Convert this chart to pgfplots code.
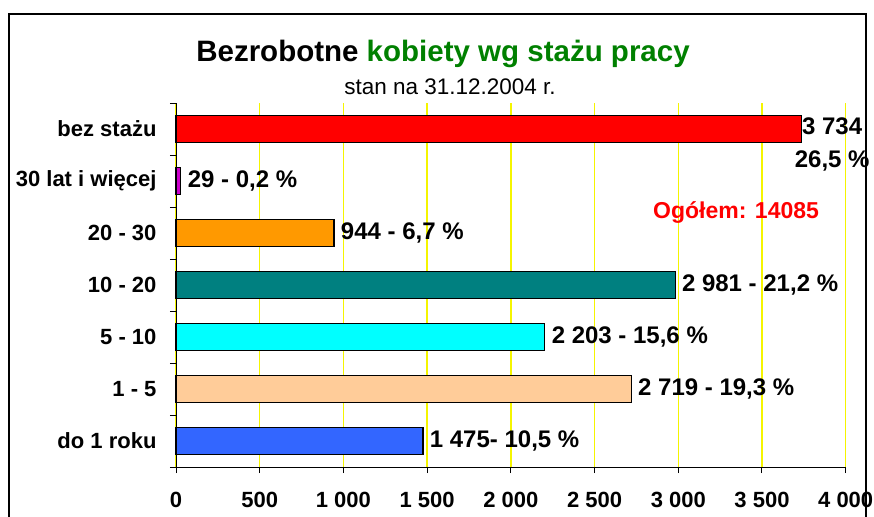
\documentclass[border=0pt]{standalone}
\usepackage{pgfplots}
\pgfplotsset{compat=1.18}
\usepackage{fontspec}
\setmainfont{Liberation Sans}
\definecolor{titlegreen}{RGB}{0,128,0}
\definecolor{c1}{RGB}{51,102,255}
\definecolor{c2}{RGB}{255,204,153}
\definecolor{c3}{RGB}{0,255,255}
\definecolor{c4}{RGB}{0,128,128}
\definecolor{c5}{RGB}{255,153,0}
\definecolor{c6}{RGB}{204,0,204}
\definecolor{c7}{RGB}{255,0,0}
\definecolor{gridyellow}{RGB}{245,245,0}
\begin{document}
\begin{tikzpicture}
\useasboundingbox (0,0) rectangle (874pt,-516pt);
\draw[line width=1.5pt] (9pt,-540pt) -- (9pt,-14pt) -- (866pt,-14pt) -- (866pt,-540pt);
\node[anchor=base, inner sep=0pt] at (443pt,-62pt) {\fontsize{29.5}{33}\selectfont\bfseries Bezrobotne \textcolor{titlegreen}{kobiety wg stażu pracy}};
\node[anchor=base, inner sep=0pt] at (450pt,-95pt) {\fontsize{22.5}{26}\selectfont stan na 31.12.2004 r.};
\begin{axis}[
  at={(176pt,-467pt)}, anchor=south west,
  scale only axis, width=669.7pt, height=364pt,
  xmin=0, xmax=4000, ymin=-0.5, ymax=6.5,
  enlargelimits=false, clip=false,
  axis x line*=bottom, axis y line*=left,
  axis line style={-, line width=1pt},
  xtick={0,500,...,4000},
  xticklabels={0,500,1 000,1 500,2 000,2 500,3 000,3 500,4 000},
  ytick={0,...,6},
  yticklabels={do 1 roku,1 - 5,5 - 10,10 - 20,20 - 30,30 lat i więcej,bez stażu},
  minor ytick={-0.5,0.5,...,6.5},
  tick align=outside,
  major tick length=6pt, minor tick length=6pt,
  major y tick style={draw=none},
  minor y tick style={black, line width=1pt},
  major x tick style={black, line width=1pt},
  xmajorgrids,
  major x grid style={gridyellow, line width=1.4pt},
  xticklabel style={font=\bfseries\fontsize{22}{26}\selectfont, yshift=-16pt},
  yticklabel style={font=\bfseries\fontsize{22}{26}\selectfont, xshift=-10pt},
  bar width=26.6pt,
  nodes near coords style={font=\bfseries\fontsize{24}{33}\selectfont, anchor=west, xshift=3pt},
]
\addplot[xbar, bar shift=0pt, fill=c1, draw=black, line width=1.2pt, nodes near coords={1 475- 10,5 \%}] coordinates {(1475,0)};
\addplot[xbar, bar shift=0pt, fill=c2, draw=black, line width=1.2pt, nodes near coords={2 719 - 19,3 \%}] coordinates {(2719,1)};
\addplot[xbar, bar shift=0pt, fill=c3, draw=black, line width=1.2pt, nodes near coords={2 203 - 15,6 \%}] coordinates {(2203,2)};
\addplot[xbar, bar shift=0pt, fill=c4, draw=black, line width=1.2pt, nodes near coords={2 981 - 21,2 \%}] coordinates {(2981,3)};
\addplot[xbar, bar shift=0pt, fill=c5, draw=black, line width=1.2pt, nodes near coords={944 - 6,7 \%}] coordinates {(944,4)};
\addplot[xbar, bar shift=0pt, fill=c6, draw=black, line width=1.2pt, nodes near coords={29 - 0,2 \%}] coordinates {(29,5)};
\addplot[xbar, bar shift=0pt, fill=c7, draw=black, line width=1.2pt, nodes near coords={3 734\\26,5 \%},
  every node near coord/.append style={align=center, anchor=center, xshift=28pt, yshift=-15pt}] coordinates {(3734,6)};
\node[text=red, font=\bfseries\fontsize{23}{27}\selectfont] at (axis cs:3345,4.4) {Ogółem: 14085};
\end{axis}
\end{tikzpicture}
\end{document}
